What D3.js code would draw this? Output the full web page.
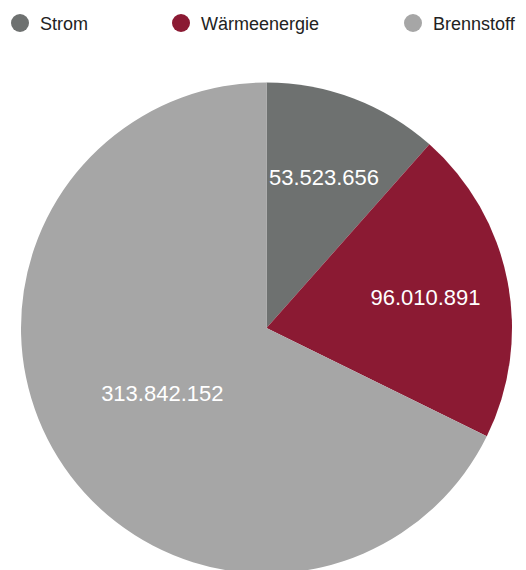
<!DOCTYPE html>
<html><head><meta charset="utf-8">
<script src="https://cdn.jsdelivr.net/npm/d3@7"></script>
<style>body{margin:0;background:#fff}svg{display:block}</style>
</head><body>
<svg id="c" width="526" height="570"></svg>
<script>
const categories = ["Strom", "Wärmeenergie", "Brennstoff"];
const values = [53523656, 96010891, 313842152];
const labels = ["53.523.656", "96.010.891", "313.842.152"];
const colors = ["#6e7170", "#8b1a33", "#a6a6a6"];
const legendX = [20, 181, 413];

const svg = d3.select("#c");
const cx = 266.5, cy = 328, r = 245.5;
const font = "'Liberation Sans', Arial, Helvetica, sans-serif";

const pie = d3.pie().sort(null).value(d => d)(values);
const arc = d3.arc().innerRadius(0).outerRadius(r);
const g = svg.append("g").attr("transform", `translate(${cx},${cy})`);
g.selectAll("path").data(pie).join("path")
  .attr("d", arc).attr("fill", (d, i) => colors[i]);

g.selectAll("text").data(pie).join("text")
  .attr("transform", d => {
    const a = (d.startAngle + d.endAngle) / 2;
    const lr = (d.endAngle - d.startAngle) > Math.PI ? r * 0.5 : r * 0.66;
    return `translate(${lr * Math.sin(a)},${-lr * Math.cos(a) + 8})`;
  })
  .attr("text-anchor", "middle")
  .attr("fill", "#fff")
  .style("font-family", font).style("font-size", "22px")
  .text((d, i) => labels[i]);

const lg = svg.append("g");
categories.forEach((c, i) => {
  lg.append("circle").attr("cx", legendX[i]).attr("cy", 23).attr("r", 9).attr("fill", colors[i]);
  lg.append("text").attr("x", legendX[i] + 20).attr("y", 30)
    .style("font-family", font).style("font-size", "18px").attr("fill", "#222").text(c);
});
</script>
</body></html>
